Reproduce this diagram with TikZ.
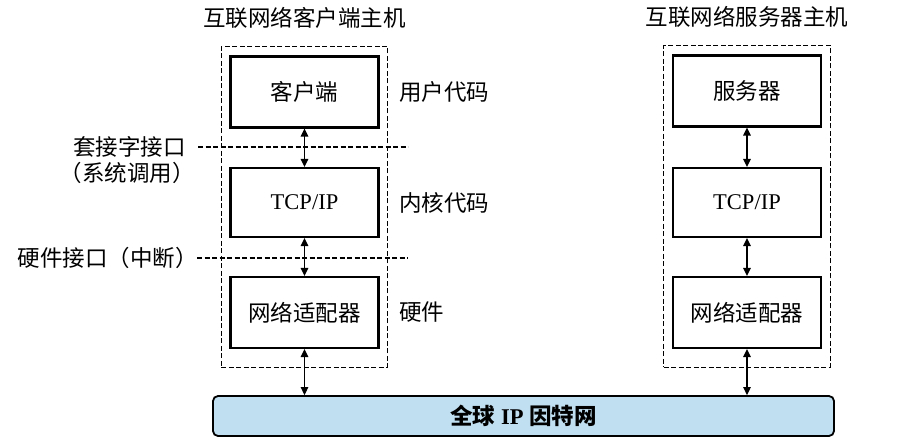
\documentclass[tikz,border=0pt]{standalone}
\usepackage{fontspec}
\setmainfont{Liberation Serif}
\newfontfamily\cjk{Noto Sans CJK SC}
\usetikzlibrary{arrows.meta, positioning, calc, fit}
\definecolor{netblue}{RGB}{192,223,241}

\tikzset{
  layerbox/.style={draw, line width=2.2pt, minimum width=148pt, minimum height=71pt,
    inner sep=0pt, font=\fontsize{22.5}{25}\selectfont},
  hostbox/.style={draw, line width=1.1pt, dash pattern=on 5pt off 2.5pt, inner xsep=8pt, inner ysep=9pt},
  sepline/.style={line width=1.1pt, dash pattern=on 5pt off 2.5pt},
  link/.style={line width=1.3pt, {Triangle[length=8pt,width=7.5pt]}-{Triangle[length=8pt,width=7.5pt]}},
  lbl/.style={inner sep=0pt, font=\cjk\fontsize{22.5}{25}\selectfont},
}

\begin{document}
\begin{tikzpicture}[x=1pt, y=-1pt]
\useasboundingbox (0,0) rectangle (914,445);

% client host
\node[layerbox] (client) at (304.5,92) {\cjk 客户端};
\node[layerbox, minimum height=69pt] (ctcp) at (304.5,202.5) {TCP/IP};
\node[layerbox] (cadapt) at (304.5,312.5) {\cjk 网络适配器};
\coordinate (cbot) at ($(cadapt.south)+(0,9)$);
\node[hostbox, fit={(client) (cadapt) (cbot)}] (chost) {};
\node[lbl, above=17pt of chost] (ctitle) {互联网络客户端主机};

% server host
\node[layerbox] (server) at (747,91) {\cjk 服务器};
\node[layerbox, minimum height=69pt] (stcp) at (747,202.5) {TCP/IP};
\node[layerbox] (sadapt) at (747,312.5) {\cjk 网络适配器};
\coordinate (sbot) at ($(sadapt.south)+(0,9)$);
\node[hostbox, fit={(server) (sadapt) (sbot)}] (shost) {};
\node[lbl, above=17pt of shost] (stitle) {互联网络服务器主机};

% internet
\node[draw, line width=1.8pt, rounded corners=5pt, fill=netblue, minimum width=621pt,
  minimum height=40pt, font=\bfseries\fontsize{22.5}{25}\selectfont] (net) at (523.5,416)
  {{\cjk\bfseries 全球} IP {\cjk\bfseries 因特网}};

% layer labels
\node[lbl, anchor=west, xshift=11pt] (ucode) at (chost.east |- client) {用户代码};
\node[lbl, anchor=west, xshift=11pt] (kcode) at (chost.east |- ctcp) {内核代码};
\node[lbl, anchor=west, xshift=11pt] (hw) at (chost.east |- cadapt) {硬件};

% interfaces
\coordinate (sockl) at (198,147);
\coordinate (sockr) at (408,147);
\coordinate (hwl) at (197,258);
\coordinate (hwr) at (408,258);
\draw[sepline] (sockl) -- (sockr);
\draw[sepline] (hwl) -- (hwr);
\node[lbl, anchor=east, xshift=-12pt] (sock) at (sockl) {套接字接口};
\node[lbl, anchor=north east, yshift=-4pt] (syscall) at ($(sock.south east)+(9,0)$) {（系统调用）};
\node[lbl, anchor=east, xshift=1pt] (hwif) at (hwl) {硬件接口（中断）};

% links
\draw[link] (client) -- (ctcp);
\draw[link] (ctcp) -- (cadapt);
\draw[link] (cadapt) -- (cadapt |- net.north);
\draw[link] (server) -- (stcp);
\draw[link] (stcp) -- (sadapt);
\draw[link] (sadapt) -- (sadapt |- net.north);
\end{tikzpicture}
\end{document}
